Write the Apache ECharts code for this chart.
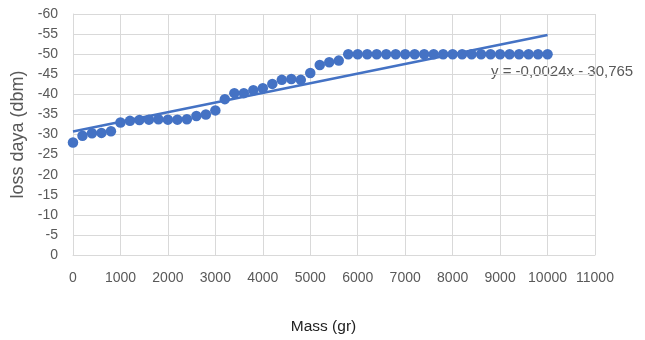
<!DOCTYPE html>
<html>
<head>
<meta charset="utf-8">
<script src="https://cdn.jsdelivr.net/npm/echarts@6/dist/echarts.min.js"></script>
<style>
	html, body { margin: 0; padding: 0; background: #fff; }
	#chart { width: 645px; height: 340px; }
</style>
</head>
<body>
<div id="chart"></div>
<script>
// data
var mass = [0, 200, 400, 600, 800, 1000, 1200, 1400, 1600, 1800, 2000, 2200, 2400, 2600, 2800, 3000,
	3200, 3400, 3600, 3800, 4000, 4200, 4400, 4600, 4800, 5000, 5200, 5400, 5600, 5800, 6000,
	6200, 6400, 6600, 6800, 7000, 7200, 7400, 7600, 7800, 8000, 8200, 8400, 8600, 8800, 9000,
	9200, 9400, 9600, 9800, 10000];
var loss = [-28, -29.7, -30.3, -30.4, -30.8, -33, -33.4, -33.6, -33.7, -33.8, -33.7, -33.7, -33.8, -34.6, -35, -36,
	-38.8, -40.3, -40.3, -41, -41.5, -42.6, -43.6, -43.8, -43.6, -45.3, -47.3, -48, -48.4, -50, -50,
	-50, -50, -50, -50, -50, -50, -50, -50, -50, -50, -50, -50, -50, -50, -50,
	-50, -50, -50, -50, -50];
var trendSlope = -0.0024;
var trendIntercept = -30.765;
var trendRange = [0, 10000];
var xTicks = { min: 0, max: 11000, step: 1000 };
var yTicks = { min: -60, max: 0, step: 5 };

var points = [];
for (var i = 0; i < mass.length; i++) {
	points.push([mass[i], loss[i]]);
}
var trend = trendRange.map(function(x) {
	return [x, trendSlope * x + trendIntercept];
});

var myChart = echarts.init(document.getElementById('chart'));
var fontName = 'Liberation Sans';

var option = {
	backgroundColor: '#fff',
	animation: false,
	grid: {
		left: 73,
		right: 50,
		top: 14,
		bottom: 83
	},
	xAxis: {
		type: 'value',
		min: xTicks.min,
		max: xTicks.max,
		interval: xTicks.step,
		name: 'Mass (gr)',
		nameLocation: 'middle',
		nameGap: 64,
		nameTextStyle: { color: '#222', fontSize: 15.5, fontFamily: fontName, padding: [0, 21, 0, 0] },
		axisLine: { show: true, lineStyle: { color: '#d9d9d9' } },
		axisTick: { show: false },
		axisLabel: {
			color: '#595959',
			fontSize: 14,
			fontFamily: fontName,
			margin: 16,
			formatter: function(v) { return String(v); }
		},
		splitLine: { show: true, lineStyle: { color: '#d9d9d9' } }
	},
	yAxis: {
		type: 'value',
		inverse: true,
		min: yTicks.min,
		max: yTicks.max,
		interval: yTicks.step,
		name: 'loss daya (dbm)',
		nameLocation: 'middle',
		nameGap: 44,
		nameTextStyle: { color: '#595959', fontSize: 18, fontFamily: fontName },
		axisLine: { show: true, lineStyle: { color: '#d9d9d9' } },
		axisTick: { show: false },
		axisLabel: { color: '#595959', fontSize: 14, fontFamily: fontName, margin: 15 },
		splitLine: { show: true, lineStyle: { color: '#d9d9d9' } }
	},
	series: [{
			type: 'scatter',
			data: points,
			symbol: 'circle',
			symbolSize: 10.5,
			itemStyle: { color: '#4472c4', opacity: 1 },
			z: 3
		},
		{
			type: 'line',
			data: trend,
			symbol: 'none',
			lineStyle: { color: '#4472c4', width: 2.5 },
			z: 2
		}
	],
	graphic: [{
		type: 'text',
		left: 491,
		top: 64,
		style: {
			text: 'y = -0,0024x - 30,765',
			fill: '#595959',
			fontSize: 15,
			fontFamily: fontName
		}
	}]
};

myChart.setOption(option);
</script>
</body>
</html>
